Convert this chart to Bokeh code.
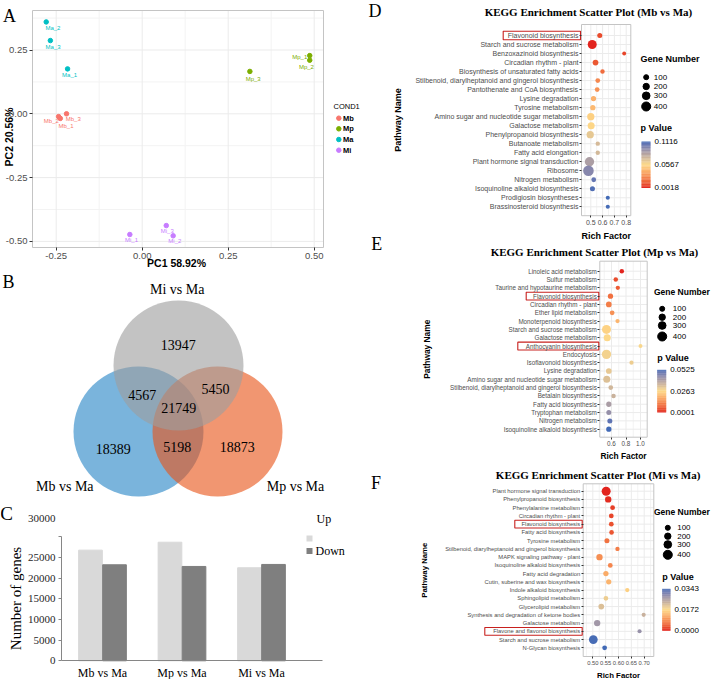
import math
from bokeh.plotting import figure
from bokeh.models import Range1d, FixedTicker, PrintfTickFormatter, ColumnDataSource, LinearColorMapper
from bokeh.layouts import row, column
from bokeh.transform import transform
from bokeh.embed import file_html
from bokeh.resources import INLINE
from bokeh.core.properties import value

# ======================= DATA =======================
# --- Panel A: PCA ---
pca_sample = ["Ma_1", "Ma_2", "Ma_3", "Mb_1", "Mb_2", "Mb_3",
              "Mp_1", "Mp_2", "Mp_3", "Mi_1", "Mi_2", "Mi_3"]
pca_group = ["Ma", "Ma", "Ma", "Mb", "Mb", "Mb", "Mp", "Mp", "Mp", "Mi", "Mi", "Mi"]
pca_pc1 = [-0.217, -0.279, -0.267, -0.238, -0.243, -0.220,
           0.487, 0.487, 0.313, -0.036, 0.090, 0.070]
pca_pc2 = [0.176, 0.360, 0.287, -0.018, -0.011, 0.000,
           0.228, 0.210, 0.166, -0.473, -0.478, -0.438]
pca_levels = ["Mb", "Mp", "Ma", "Mi"]
pca_x_ticks = [-0.25, 0.0, 0.25, 0.50]
pca_y_ticks = [-0.50, -0.25, 0.0, 0.25]
pca_x_minor = [-0.125, 0.125, 0.375]
pca_y_minor = [-0.375, -0.125, 0.125, 0.375]
pc1_label = "PC1  58.92%"
pc2_label = "PC2  20.56%"
pca_legend_title = "COND1"

# --- Panel B: Venn ---
venn_sets = ["Mi vs Ma", "Mb vs Ma", "Mp vs Ma"]
venn_regions = ["Mi only", "Mi&Mb", "Mi&Mp", "all", "Mb only", "Mb&Mp", "Mp only"]
venn_counts = [13947, 4567, 5450, 21749, 18389, 5198, 18873]

# --- Panel C: DEG counts ---
deg_comparisons = ["Mb vs Ma", "Mp vs Ma", "Mi vs Ma"]
deg_up = [26780, 28700, 22520]
deg_down = [23240, 22830, 23320]
deg_y_ticks = [0, 5000, 10000, 15000, 20000, 25000, 30000]
deg_series = ["Up", "Down"]
deg_ylabel = "Number of genes"

# --- Panel D: KEGG Mb vs Ma ---
d_names = ["Flavonoid biosynthesis", "Starch and sucrose metabolism",
           "Benzoxazinoid biosynthesis", "Circadian rhythm - plant",
           "Biosynthesis of unsaturated fatty acids",
           "Stilbenoid, diarylheptanoid and gingerol biosynthesis",
           "Pantothenate and CoA biosynthesis", "Lysine degradation",
           "Tyrosine metabolism", "Amino sugar and nucleotide sugar metabolism",
           "Galactose metabolism", "Phenylpropanoid biosynthesis",
           "Butanoate metabolism", "Fatty acid elongation",
           "Plant hormone signal transduction", "Ribosome", "Nitrogen metabolism",
           "Isoquinoline alkaloid biosynthesis", "Prodigiosin biosyntheses",
           "Brassinosteroid biosynthesis"]
d_rich = [0.576, 0.512, 0.783, 0.540, 0.599, 0.559, 0.554, 0.523, 0.517, 0.500,
          0.503, 0.495, 0.559, 0.559, 0.489, 0.480, 0.525, 0.514, 0.644, 0.644]
d_genes = [100, 400, 15, 150, 60, 80, 80, 120, 120, 270,
           250, 270, 50, 50, 420, 520, 80, 100, 30, 30]
d_p = [0.010, 0.0018, 0.008, 0.013, 0.019, 0.028, 0.031, 0.042, 0.045, 0.053,
       0.055, 0.065, 0.071, 0.072, 0.085, 0.096, 0.105, 0.109, 0.1116, 0.1110]
d_highlight = ["Flavonoid biosynthesis"]
d_ticks = [0.5, 0.6, 0.7, 0.8]

# --- Panel E: KEGG Mp vs Ma ---
e_names = ["Linoleic acid metabolism", "Sulfur metabolism",
           "Taurine and hypotaurine metabolism", "Flavonoid biosynthesis",
           "Circadian rhythm - plant", "Ether lipid metabolism",
           "Monoterpenoid biosynthesis", "Starch and sucrose metabolism",
           "Galactose metabolism", "Anthocyanin biosynthesis", "Endocytosis",
           "Isoflavonoid biosynthesis", "Lysine degradation",
           "Amino sugar and nucleotide sugar metabolism",
           "Stilbenoid, diarylheptanoid and gingerol biosynthesis",
           "Betalain biosynthesis", "Fatty acid biosynthesis",
           "Tryptophan metabolism", "Nitrogen metabolism",
           "Isoquinoline alkaloid biosynthesis"]
e_rich = [0.742, 0.659, 0.687, 0.586, 0.563, 0.609, 0.683, 0.531, 0.541, 1.000,
          0.531, 0.876, 0.563, 0.535, 0.590, 0.628, 0.563, 0.563, 0.577, 0.563]
e_genes = [60, 60, 45, 120, 150, 80, 40, 400, 250, 20,
           420, 40, 150, 250, 80, 60, 120, 100, 100, 120]
e_p = [0.0001, 0.004, 0.006, 0.009, 0.011, 0.014, 0.020, 0.025, 0.026, 0.027,
       0.028, 0.029, 0.030, 0.032, 0.034, 0.035, 0.040, 0.043, 0.050, 0.0525]
e_highlight = ["Flavonoid biosynthesis", "Anthocyanin biosynthesis"]
e_ticks = [0.6, 0.8, 1.0]

# --- Panel F: KEGG Mi vs Ma ---
f_names = ["Plant hormone signal transduction", "Phenylpropanoid biosynthesis",
           "Phenylalanine metabolism", "Circadian rhythm - plant",
           "Flavonoid biosynthesis", "Fatty acid biosynthesis", "Tyrosine metabolism",
           "Stilbenoid, diarylheptanoid and gingerol biosynthesis",
           "MAPK signaling pathway - plant", "Isoquinoline alkaloid biosynthesis",
           "Fatty acid degradation", "Cutin, suberine and wax biosynthesis",
           "Indole alkaloid biosynthesis", "Sphingolipid metabolism",
           "Glycerolipid metabolism", "Synthesis and degradation of ketone bodies",
           "Galactose metabolism", "Flavone and flavonol biosynthesis",
           "Starch and sucrose metabolism", "N-Glycan biosynthesis"]
f_rich = [0.552, 0.560, 0.577, 0.572, 0.572, 0.573, 0.555, 0.596, 0.526, 0.568,
          0.551, 0.562, 0.634, 0.551, 0.533, 0.698, 0.517, 0.682, 0.502, 0.546]
f_genes = [400, 200, 80, 80, 80, 70, 100, 50, 200, 80,
           120, 120, 45, 80, 150, 30, 200, 30, 380, 80]
f_p = [0.00002, 0.0005, 0.0015, 0.002, 0.003, 0.0035, 0.006, 0.007, 0.009, 0.008,
       0.012, 0.013, 0.016, 0.019, 0.021, 0.023, 0.027, 0.028, 0.0340, 0.03434]
f_highlight = ["Flavonoid biosynthesis", "Flavone and flavonol biosynthesis"]
f_ticks = [0.50, 0.55, 0.60, 0.65, 0.70]

gene_legend = [100, 200, 300, 400]

# ======================= STYLE =======================
SANS = "Liberation Sans"
SERIF = "Liberation Serif"
COND_COLORS = {"Mb": "#F8766D", "Mp": "#7CAE00", "Ma": "#00BFC4", "Mi": "#C77CFF"}
GRID = "#EBEBEB"
MINOR = "#F3F3F3"
BORDER = "#C4C4C4"
AXTXT = "#4D4D4D"
LW = 362  # width of the left column


def size_px(v):
    return 3.7 + 0.0133 * v


def _lin(c):
    c = c / 255.0
    return c / 12.92 if c <= 0.04045 else ((c + 0.055) / 1.055) ** 2.4


def _gam(c):
    c = 12.92 * c if c <= 0.0031308 else 1.055 * (max(c, 0) ** (1 / 2.4)) - 0.055
    return max(0, min(255, int(round(c * 255))))


def rgb2lab(rgb):
    r, g, b = [_lin(v) for v in rgb]
    X = (0.4124 * r + 0.3576 * g + 0.1805 * b) / 0.95047
    Y = 0.2126 * r + 0.7152 * g + 0.0722 * b
    Z = (0.0193 * r + 0.1192 * g + 0.9505 * b) / 1.08883
    f = lambda t: t ** (1 / 3) if t > 0.008856 else 7.787 * t + 16 / 116
    fx, fy, fz = f(X), f(Y), f(Z)
    return (116 * fy - 16, 500 * (fx - fy), 200 * (fy - fz))


def lab2hex(L, a, b):
    fy = (L + 16) / 116
    fx = fy + a / 500
    fz = fy - b / 200
    finv = lambda t: t ** 3 if t ** 3 > 0.008856 else (t - 16 / 116) / 7.787
    X = finv(fx) * 0.95047
    Y = finv(fy)
    Z = finv(fz) * 1.08883
    r = 3.2406 * X - 1.5372 * Y - 0.4986 * Z
    g = -0.9689 * X + 1.8758 * Y + 0.0415 * Z
    bb = 0.0557 * X - 0.2040 * Y + 1.0570 * Z
    return "#%02x%02x%02x" % (_gam(r), _gam(g), _gam(bb))


LOW, MID, HIGH = rgb2lab((226, 36, 30)), rgb2lab((253, 218, 138)), rgb2lab((66, 106, 182))
PAL = []
for k in range(256):
    t = k / 255
    if t < 0.5:
        a, b_, u = LOW, MID, t * 2
    else:
        a, b_, u = MID, HIGH, (t - 0.5) * 2
    PAL.append(lab2hex(*[a[i] + (b_[i] - a[i]) * u for i in range(3)]))


def make_fig(w, h, xr, yr):
    p = figure(width=w, height=h, x_range=Range1d(*xr), y_range=Range1d(*yr),
               output_backend="svg", toolbar_location=None, title=None, min_border=0)
    p.grid.visible = False
    p.outline_line_color = None
    return p


def blank(w, h):
    p = figure(width=w, height=h, x_range=Range1d(0, w), y_range=Range1d(h, 0),
               x_axis_location=None, y_axis_location=None, output_backend="svg",
               toolbar_location=None, title=None, min_border=0)
    p.grid.visible = False
    p.outline_line_color = None
    return p


def T(p, x, y, text, size, font=SANS, style="normal", color="black",
      align="left", baseline="middle", angle=0.0):
    xs = x if isinstance(x, list) else [x]
    ys = y if isinstance(y, list) else [y]
    ts = text if isinstance(text, list) else [text]
    p.text(x=xs, y=ys, text=ts, text_font=value(font), text_font_size=size,
           text_font_style=style, text_color=color, text_align=align,
           text_baseline=baseline, angle=angle)


def style_axis(ax, size, font=SANS, color=AXTXT, tick_out=3, standoff=2):
    ax.axis_line_color = None
    ax.major_tick_out = tick_out
    ax.major_tick_in = 0
    ax.minor_tick_out = 0
    ax.minor_tick_in = 0
    ax.major_tick_line_color = "#333333"
    ax.major_label_text_font = font
    ax.major_label_text_font_size = size
    ax.major_label_text_color = color
    ax.major_label_standoff = standoff


def panel_grid(p, xl, xr, yb, yt, xmaj, xmin, ymaj, ymin):
    vx = [v for v in xmin if xl < v < xr]
    hy = [v for v in ymin if yb < v < yt]
    p.segment(x0=vx, y0=[yb] * len(vx), x1=vx, y1=[yt] * len(vx), line_color=MINOR, line_width=1)
    p.segment(x0=[xl] * len(hy), y0=hy, x1=[xr] * len(hy), y1=hy, line_color=MINOR, line_width=1)
    vx = [v for v in xmaj if xl < v < xr]
    hy = [v for v in ymaj if yb < v < yt]
    p.segment(x0=vx, y0=[yb] * len(vx), x1=vx, y1=[yt] * len(vx), line_color=GRID, line_width=1)
    p.segment(x0=[xl] * len(hy), y0=hy, x1=[xr] * len(hy), y1=hy, line_color=GRID, line_width=1)
    p.quad(left=[xl], right=[xr], bottom=[yb], top=[yt], fill_color=None,
           line_color=BORDER, line_width=1)


# ======================= PANEL A =======================
AH = 268
ax_ = lambda px: (px - 141.7) / 344.0
ay_ = lambda py: (113.3 - py) / 255.2
pA = make_fig(LW, AH, (ax_(0), ax_(LW)), (ay_(AH), ay_(0)))
A_l, A_r, A_t, A_b = ax_(32), ax_(323), ay_(10), ay_(247)
panel_grid(pA, A_l, A_r, A_b, A_t, pca_x_ticks, pca_x_minor, pca_y_ticks, pca_y_minor)
pA.xaxis.ticker = FixedTicker(ticks=pca_x_ticks)
pA.yaxis.ticker = FixedTicker(ticks=pca_y_ticks)
pA.xaxis.formatter = PrintfTickFormatter(format="%.2f")
pA.yaxis.formatter = PrintfTickFormatter(format="%.2f")
style_axis(pA.xaxis, "9.5px", tick_out=3, standoff=2)
style_axis(pA.yaxis, "9.5px", tick_out=3, standoff=2)
pA.xaxis.fixed_location = A_b
pA.yaxis.fixed_location = A_l

label_dx = [2, 6.7, 2.7, 5.7, -7.3, 6.7, -10, -3.3, 3.3, 1.7, 1.7, 1.0]
label_dy = [6.3, 6, 6, 8, 4.7, 5.3, 1.7, 6.3, 7.7, 5.3, 5.3, 5.7]
srcA = ColumnDataSource(dict(x=pca_pc1, y=pca_pc2, name=pca_sample,
                             color=[COND_COLORS[g] for g in pca_group],
                             dx=label_dx, dy=label_dy))
pA.scatter("x", "y", size=4.5, color="color", source=srcA)
pA.text("x", "y", text="name", x_offset="dx", y_offset="dy", text_color="color",
        text_font=value(SANS), text_font_size="6px", text_align="center",
        text_baseline="middle", source=srcA)
T(pA, ax_(9), ay_(15.3), "A", "18px", font=SERIF, align="center", baseline="alphabetic")
T(pA, ax_(177.5), ay_(262.3), pc1_label, "10.5px", style="bold", align="center")
T(pA, ax_(8.5), ay_(135), pc2_label, "10.5px", style="bold", align="center", angle=math.pi / 2)
T(pA, ax_(333), ay_(106), pca_legend_title, "7.5px")
leg_y = [117.7, 128.3, 139, 149.7]
pA.scatter(x=[ax_(338.3)] * 4, y=[ay_(v) for v in leg_y], size=4.5,
           color=[COND_COLORS[l] for l in pca_levels])
T(pA, [ax_(342.5)] * 4, [ay_(v) for v in leg_y], pca_levels, "7.5px", style="bold")

# ======================= PANEL B =======================
pB = blank(LW, 229)
circ_x = [138, 217, 178]
circ_y = [163, 163, 97]
circ_col = ["#2886C6", "#E8561A", "#9E9E9E"]
pB.circle(x=circ_x, y=circ_y, radius=65, fill_color=circ_col, fill_alpha=0.62, line_color=None)
reg_x = [177.7, 141.7, 215, 178.3, 112.7, 176.7, 236.7]
reg_y = [76, 126.3, 120.3, 139.7, 180.3, 178, 178.7]
T(pB, reg_x, reg_y, [str(c) for c in venn_counts], "14px", font=SERIF, align="center")
T(pB, [176.7, 64.3, 295], [21, 217.7, 217.7], venn_sets, "14px", font=SERIF, align="center")
T(pB, 8, 13.5, "B", "18px", font=SERIF, align="center", baseline="alphabetic")

# ======================= PANEL C =======================
CH = 182
cx_ = lambda px: -0.0157 + (px - 61) / 79.5
cy_ = lambda py: (163.3 - py) / 0.004132
pC = make_fig(LW, CH, (cx_(0), cx_(LW)), (cy_(CH), cy_(0)))
cx = [i + 0.5 for i in range(len(deg_comparisons))]
pC.vbar(x=[c - 0.151 for c in cx], top=deg_up, width=0.298, color="#D9D9D9")
pC.vbar(x=[c + 0.151 for c in cx], top=deg_down, width=0.298, color="#7F7F7F")
pC.xaxis.ticker = FixedTicker(ticks=cx)
pC.xaxis.major_label_overrides = {c: n for c, n in zip(cx, deg_comparisons)}
pC.yaxis.ticker = FixedTicker(ticks=deg_y_ticks)
pC.yaxis.major_label_overrides = {deg_y_ticks[-1]: ""}
style_axis(pC.xaxis, "12px", font=SERIF, color="black", tick_out=0, standoff=5)
style_axis(pC.yaxis, "11px", font=SERIF, color="#262626", tick_out=3, standoff=3)
for axx in (pC.xaxis, pC.yaxis):
    axx.axis_line_color = "#868686"
    axx.major_tick_line_color = "#868686"
pC.xaxis.fixed_location = 0
pC.yaxis.fixed_location = cx_(61)
pC.xaxis.bounds = (cx_(61), cx_(322))
pC.yaxis.bounds = (0, deg_y_ticks[-1])
T(pC, cx_(55), cy_(21), str(deg_y_ticks[-1]), "11px", font=SERIF, color="#262626", align="right")
T(pC, cx_(6), cy_(16), "C", "19px", font=SERIF, align="center", baseline="alphabetic")
T(pC, cx_(15), cy_(101), deg_ylabel, "15px", font=SERIF, align="center", angle=math.pi / 2)
pC.quad(left=[cx_(306)] * 2, right=[cx_(312)] * 2, top=[cy_(38), cy_(50.5)],
        bottom=[cy_(44), cy_(56.5)], fill_color=["#D9D9D9", "#7F7F7F"], line_color=None)
T(pC, [cx_(316), cx_(315)], [cy_(21), cy_(53.7)], deg_series, "12px", font=SERIF)


# ======================= PANELS D-F =======================
def kegg(names, rich, genes, pvals, highlight, ticks, title, g):
    W, H = 713 - 385, g["H"]
    n = len(names)
    ys = [n - 1 - i for i in range(n)]
    X = lambda px: g["t0"] + (px - g["t0px"]) / g["k"]
    sp = (g["last"] - g["first"]) / (n - 1)
    Y = lambda py: (g["last"] - py) / sp
    p = make_fig(W, H, (X(0), X(W)), (Y(H), Y(0)))
    xl, xr, yt, yb = X(g["pl"]), X(g["pr"]), Y(g["pt"]), Y(g["pb"])
    step = ticks[1] - ticks[0]
    minor = [t + step / 2 for t in [ticks[0] - step] + ticks]
    panel_grid(p, xl, xr, yb, yt, ticks, minor, ys, [])
    p.yaxis.ticker = FixedTicker(ticks=ys)
    p.yaxis.major_label_overrides = {y: nm for y, nm in zip(ys, names)}
    p.xaxis.ticker = FixedTicker(ticks=ticks)
    p.xaxis.formatter = PrintfTickFormatter(format=g["fmt"])
    style_axis(p.xaxis, g["fs"], standoff=2, tick_out=2)
    style_axis(p.yaxis, g["fs"], standoff=1, tick_out=2)
    p.xaxis.fixed_location = yb
    p.yaxis.fixed_location = xl
    mapper = LinearColorMapper(palette=PAL, low=min(pvals), high=max(pvals))
    src = ColumnDataSource(dict(x=rich, y=ys, s=[size_px(v) for v in genes], p=pvals))
    p.scatter("x", "y", size="s", fill_color=transform("p", mapper), line_color=None, source=src)
    for nm, left in zip(highlight, g["hl_left"]):
        yy = ys[names.index(nm)]
        p.quad(left=[X(left)], right=[X(g["pl"] - 1)], top=[yy + 0.47], bottom=[yy - 0.47],
               fill_color=None, line_color="#C8201E", line_width=1.1)
    T(p, X(g["title_x"]), Y(g["title_y"]), title, "11px", font=SERIF, style="bold", align="center")
    T(p, X((g["pl"] + g["pr"]) / 2), Y(g["rich_y"]), "Rich Factor", g["afs"], style="bold",
      align="center")
    T(p, X(g["path_x"]), Y((g["pt"] + g["pb"]) / 2), "Pathway Name", g["afs"], style="bold",
      align="center", angle=math.pi / 2)
    # legends
    T(p, X(g["gtx"]), Y(g["gy"]), "Gene Number", g["gfs"], style="bold")
    p.scatter(x=[X(g["dx"])] * len(gene_legend), y=[Y(v) for v in g["dys"]],
              size=[size_px(v) for v in gene_legend], color="black")
    T(p, [X(g["lx"])] * len(gene_legend), [Y(v) for v in g["dys"]],
      [str(v) for v in gene_legend], "8px")
    T(p, X(g["gx"]), Y(g["py"]), "p Value", "9px", style="bold")
    b0, b1 = g["bar_y"]
    nseg = 60
    seg = (b1 - b0) / nseg
    tops = [b0 + k * seg for k in range(nseg)]
    cols = [PAL[int(round((1 - (k + 0.5) / nseg) * 255))] for k in range(nseg)]
    p.quad(left=X(g["bar_x"][0]), right=X(g["bar_x"][1]), top=[Y(tt) for tt in tops],
           bottom=[Y(tt + seg + 0.3) for tt in tops], fill_color=cols, line_color=None)
    hi, lo = max(pvals), min(pvals)
    T(p, [X(g["bar_x"][1] + 4)] * 3, [Y(b0), Y((b0 + b1) / 2), Y(b1)],
      ["%.4f" % hi, "%.4f" % ((hi + lo) / 2), "%.4f" % lo], "8px")
    return p


gD = dict(H=242, t0=0.5, t0px=205.3, k=118.0, fmt="%.1f", first=35, last=206.3,
          pl=196, pr=245.3, pt=24, pb=215.2, hl_left=[117.7], fs="7px", afs="9px",
          title_x=203, title_y=11.7, rich_y=235.5, path_x=12,
          gx=255, gtx=255, gfs="9px", gy=58.3, dx=260.7, dys=[76.7, 86, 95.3, 106], lx=268.3,
          py=127.3, bar_x=(256, 265), bar_y=(141, 187.3))
gE = dict(H=221, t0=0.6, t0px=226.0, k=72.5, fmt="%.1f", first=28.7, last=186.7,
          pl=214.3, pr=261.7, pt=18.7, pb=194.7, hl_left=[140.7, 132.3], fs="6.3px", afs="8.4px",
          title_x=209, title_y=9.7, rich_y=213.7, path_x=41,
          gx=271.7, gtx=268.5, gfs="8.5px", gy=49.7, dx=276.7, dys=[66.3, 74.7, 83, 94], lx=287.3,
          py=115.3, bar_x=(271.7, 280.7), bar_y=(127.3, 169.7))
gF = dict(H=216, t0=0.5, t0px=207.3, k=257.0, fmt="%.2f", first=27.7, last=184.3,
          pl=197.7, pr=268.3, pt=20.3, pb=193, hl_left=[129.3, 99.3], fs="5.8px", afs="7.8px",
          title_x=212.7, title_y=11, rich_y=212, path_x=39.3,
          gx=276.7, gtx=268.5, gfs="8.5px", gy=48, dx=282.3, dys=[64.3, 72.7, 81, 91.3], lx=291.7,
          py=113, bar_x=(276.7, 285), bar_y=(125.3, 167))

pD = kegg(d_names, d_rich, d_genes, d_p, d_highlight, d_ticks,
          "KEGG Enrichment Scatter Plot (Mb vs Ma)", gD)
pE = kegg(e_names, e_rich, e_genes, e_p, e_highlight, e_ticks,
          "KEGG Enrichment Scatter Plot (Mp vs Ma)", gE)
pF = kegg(f_names, f_rich, f_genes, f_p, f_highlight, f_ticks,
          "KEGG Enrichment Scatter Plot (Mi vs Ma)", gF)

letters = blank(385 - LW, 679)
T(letters, [19.5 - 7, 21.3 - 7, 20.5 - 7], [10.5, 243.3, 482.3], ["D", "E", "F"], "18px",
  font=SERIF, align="center")

root = row(column(pA, pB, pC), row(letters, column(pD, pE, pF)))
open("out.html", "w").write(file_html(root, INLINE))
